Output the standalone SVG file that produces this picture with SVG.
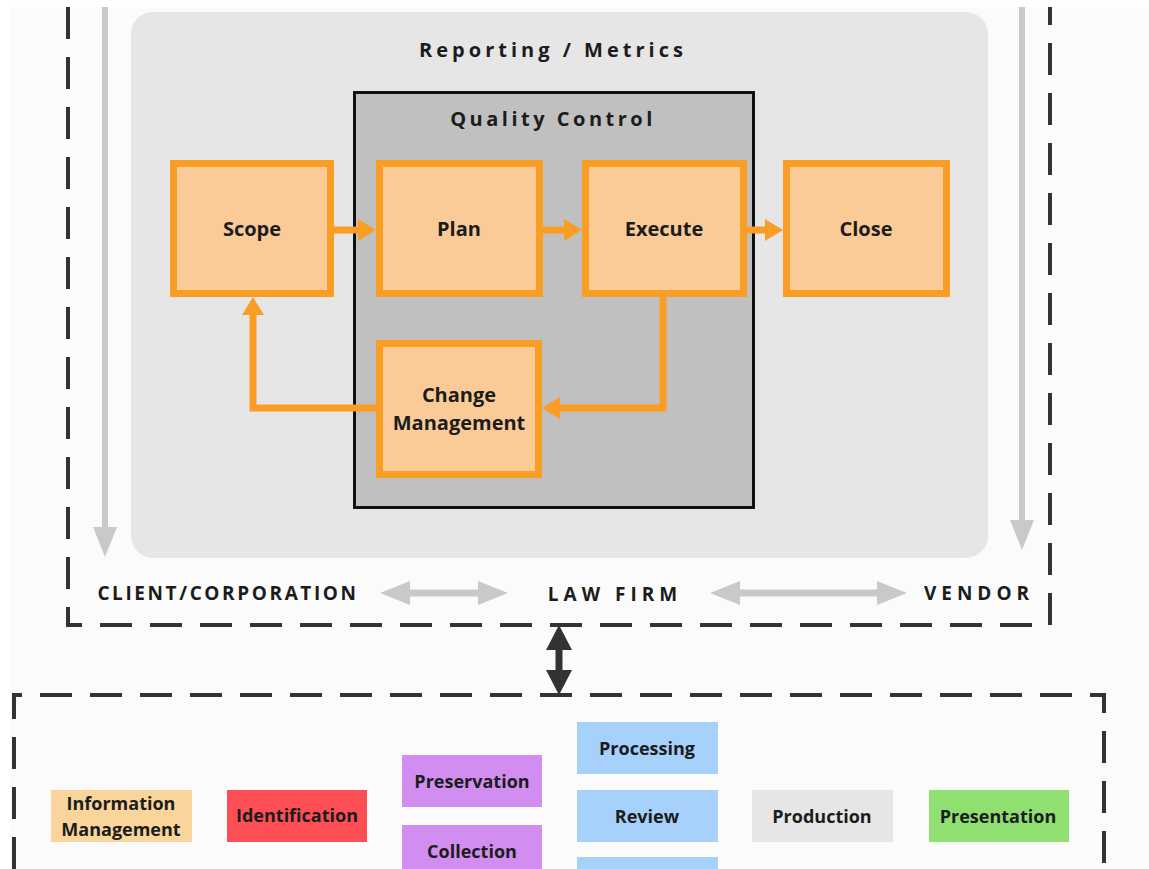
<svg xmlns="http://www.w3.org/2000/svg" width="1149" height="869" viewBox="0 0 1149 869">
  <style>
    .lbl { font-family: "Open Sans", "Liberation Sans", sans-serif; font-weight: 700; fill: #1c1c1c; text-anchor: middle; dominant-baseline: central; }
    .step rect { fill: #fbcb97; stroke: #f99d25; stroke-width: 7; }
    .step text { font-size: 20px; }
    .phase text { font-size: 18px; }
    .head { font-size: 20px; letter-spacing: 4px; }
    .party { font-size: 19px; letter-spacing: 5px; }
    .dash { fill: none; stroke: #333; stroke-width: 4; stroke-dasharray: 32 18; }
    .flow { fill: none; stroke: #f99d25; stroke-width: 7; stroke-linejoin: miter; }
    .gray { fill: none; stroke: #c9c9c9; stroke-width: 6; }
  </style>
  <defs>
    <marker id="orangeHead" markerUnits="userSpaceOnUse" markerWidth="18" markerHeight="22" refX="0" refY="11" orient="auto">
      <path d="M0,0 L18,11 L0,22 z" fill="#f99d25"/>
    </marker>
    <marker id="grayHead" markerUnits="userSpaceOnUse" markerWidth="30" markerHeight="24" refX="0" refY="12" orient="auto-start-reverse">
      <path d="M0,0 L30,12 L0,24 z" fill="#c9c9c9"/>
    </marker>
    <marker id="darkHead" markerUnits="userSpaceOnUse" markerWidth="25" markerHeight="26" refX="0" refY="13" orient="auto-start-reverse">
      <path d="M0,0 L25,13 L0,26 z" fill="#333"/>
    </marker>
  </defs>

  <!-- page -->
  <rect x="0" y="0" width="1149" height="869" fill="#ffffff"/>
  <rect x="10" y="7" width="1139" height="862" fill="#fafbfa"/>

  <!-- party boundary (client / law firm / vendor) -->
  <g id="party-boundary">
    <path class="dash" d="M68,7 V625 H1050 V7"/>
  </g>

  <!-- reporting / metrics panel -->
  <g id="reporting-metrics">
    <rect x="131" y="12" width="857" height="546" rx="22" fill="#e6e6e6"/>
    <text class="lbl head" x="553" y="49">Reporting / Metrics</text>
  </g>

  <!-- quality control panel -->
  <g id="quality-control">
    <rect x="354.5" y="92.5" width="399" height="415" fill="#c0c0c0" stroke="#111" stroke-width="3"/>
    <text class="lbl head" x="553" y="118" style="letter-spacing:3.5px">Quality Control</text>
  </g>

  <!-- workflow steps -->
  <g id="scope" class="step">
    <rect x="173.5" y="163.5" width="157" height="130"/>
    <text class="lbl" x="252" y="228">Scope</text>
  </g>
  <g id="plan" class="step">
    <rect x="379.5" y="163.5" width="160" height="130"/>
    <text class="lbl" x="459" y="228">Plan</text>
  </g>
  <g id="execute" class="step">
    <rect x="585.5" y="163.5" width="158" height="130"/>
    <text class="lbl" x="664" y="228">Execute</text>
  </g>
  <g id="close" class="step">
    <rect x="786.5" y="163.5" width="160" height="130"/>
    <text class="lbl" x="866" y="228">Close</text>
  </g>
  <g id="change-management" class="step">
    <rect x="379.5" y="343.5" width="159" height="131"/>
    <text class="lbl" x="459" y="394">Change</text>
    <text class="lbl" x="459" y="422">Management</text>
  </g>

  <!-- parties -->
  <g id="client">
    <text class="lbl party" x="228" y="593" style="letter-spacing:2.6px">CLIENT/CORPORATION</text>
  </g>
  <g id="law-firm">
    <text class="lbl party" x="615" y="594">LAW FIRM</text>
  </g>
  <g id="vendor">
    <text class="lbl party" x="979" y="593">VENDOR</text>
  </g>

  <!-- EDRM phase boundary -->
  <g id="edrm-boundary">
    <path class="dash" d="M14,869 V695 H1104 V869"/>
  </g>

  <!-- EDRM phases -->
  <g id="information-management" class="phase">
    <rect x="51" y="790" width="141" height="52" fill="#f9d59b"/>
    <text class="lbl" x="121" y="803">Information</text>
    <text class="lbl" x="121" y="829">Management</text>
  </g>
  <g id="identification" class="phase">
    <rect x="227" y="790" width="140" height="52" fill="#fe4f56"/>
    <text class="lbl" x="297" y="815">Identification</text>
  </g>
  <g id="preservation" class="phase">
    <rect x="402" y="755" width="140" height="52" fill="#d18ef0"/>
    <text class="lbl" x="472" y="781">Preservation</text>
  </g>
  <g id="collection" class="phase">
    <rect x="402" y="825" width="140" height="52" fill="#d18ef0"/>
    <text class="lbl" x="472" y="851">Collection</text>
  </g>
  <g id="processing" class="phase">
    <rect x="577" y="722" width="141" height="52" fill="#a6d1fb"/>
    <text class="lbl" x="647" y="748">Processing</text>
  </g>
  <g id="review" class="phase">
    <rect x="577" y="790" width="141" height="52" fill="#a6d1fb"/>
    <text class="lbl" x="647" y="816">Review</text>
  </g>
  <g id="analysis" class="phase">
    <rect x="577" y="857" width="141" height="52" fill="#a6d1fb"/>
  </g>
  <g id="production" class="phase">
    <rect x="752" y="790" width="141" height="52" fill="#e6e6e6"/>
    <text class="lbl" x="822" y="816">Production</text>
  </g>
  <g id="presentation" class="phase">
    <rect x="929" y="790" width="140" height="52" fill="#8fe070"/>
    <text class="lbl" x="998" y="816">Presentation</text>
  </g>

  <!-- connectors -->
  <g id="connectors">
    <path class="flow" d="M334,230 H358" marker-end="url(#orangeHead)"/>
    <path class="flow" d="M543,230 H564" marker-end="url(#orangeHead)"/>
    <path class="flow" d="M747,230 H765" marker-end="url(#orangeHead)"/>
    <path class="flow" d="M663,297 V408 H560" marker-end="url(#orangeHead)"/>
    <path class="flow" d="M376,408 H253 V315" marker-end="url(#orangeHead)"/>

    <path class="gray" d="M105,7 V527" marker-end="url(#grayHead)"/>
    <path class="gray" d="M1022,7 V520" marker-end="url(#grayHead)"/>
    <path class="gray" style="stroke-width:7" d="M410,593 H478" marker-start="url(#grayHead)" marker-end="url(#grayHead)"/>
    <path class="gray" style="stroke-width:7" d="M740,593 H877" marker-start="url(#grayHead)" marker-end="url(#grayHead)"/>

    <path d="M559,650 V670" stroke="#333" stroke-width="7" marker-start="url(#darkHead)" marker-end="url(#darkHead)"/>
  </g>
</svg>
